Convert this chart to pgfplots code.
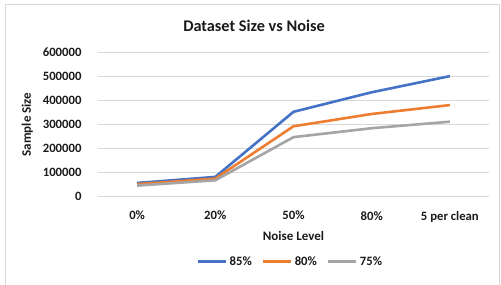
\documentclass[border=0pt]{standalone}
\usepackage{fontspec}
\setmainfont{Carlito}
\usepackage{pgfplots}
\pgfplotsset{compat=1.18}
\definecolor{cblue}{HTML}{4472C4}
\definecolor{corange}{HTML}{ED7D31}
\definecolor{cgray}{HTML}{A5A5A5}
\definecolor{cgrid}{HTML}{D9D9D9}
\definecolor{ctext}{HTML}{1A1A1A}
\begin{document}
\begin{tikzpicture}
\useasboundingbox (0pt,0pt) rectangle (501pt,-284pt);
\draw[cgrid,line width=0.8pt] (5pt,-290pt) -- (5pt,-4.5pt) -- (499.5pt,-4.5pt) -- (499.5pt,-290pt);
\node[font=\bfseries\fontsize{16.3}{19}\selectfont,text=ctext] at (254pt,-26pt) {Dataset Size vs Noise};
\begin{axis}[
  at={(98pt,-196.7pt)}, anchor=south west,
  scale only axis, width=391pt, height=144.7pt,
  xmin=-0.5, xmax=4.5, ymin=0, ymax=600000,
  xtick={0,1,2,3,4},
  xticklabels={0\%,20\%,50\%,80\%,5 per clean},
  ytick={0,100000,200000,300000,400000,500000,600000},
  scaled y ticks=false,
  yticklabel style={/pgf/number format/fixed,/pgf/number format/1000 sep={}},
  /pgf/number format/assume math mode=true,
  ymajorgrids, grid style={cgrid,line width=0.8pt},
  axis line style={draw=none},
  major tick length=0pt,
  tick label style={font=\bfseries\fontsize{12.7}{14}\selectfont,text=ctext},
  xticklabel style={yshift=-11pt},
  yticklabel style={xshift=-13pt},
  xlabel={Noise Level}, ylabel={Sample Size},
  label style={font=\bfseries\fontsize{13}{15}\selectfont,text=ctext},
  xlabel style={yshift=-2pt},
  ylabel style={yshift=3pt},
  legend style={at={(0.492,-0.447)},anchor=center,draw=none,legend columns=3,
    font=\bfseries\fontsize{12.7}{14}\selectfont,text=ctext,
    /tikz/every even column/.append style={column sep=8pt}},
  legend image code/.code={\draw[#1,line width=3pt] (0pt,0pt) -- (28pt,0pt);},
  clip=false,
]
\addplot[cblue,line width=2.6pt] coordinates {(0,57000) (1,82000) (2,352000) (3,433000) (4,500000)};
\addplot[corange,line width=2.6pt] coordinates {(0,52000) (1,75000) (2,292000) (3,343000) (4,380000)};
\addplot[cgray,line width=2.6pt] coordinates {(0,46000) (1,68000) (2,247000) (3,284000) (4,311000)};
\legend{85\%,80\%,75\%}
\end{axis}
\end{tikzpicture}
\end{document}
